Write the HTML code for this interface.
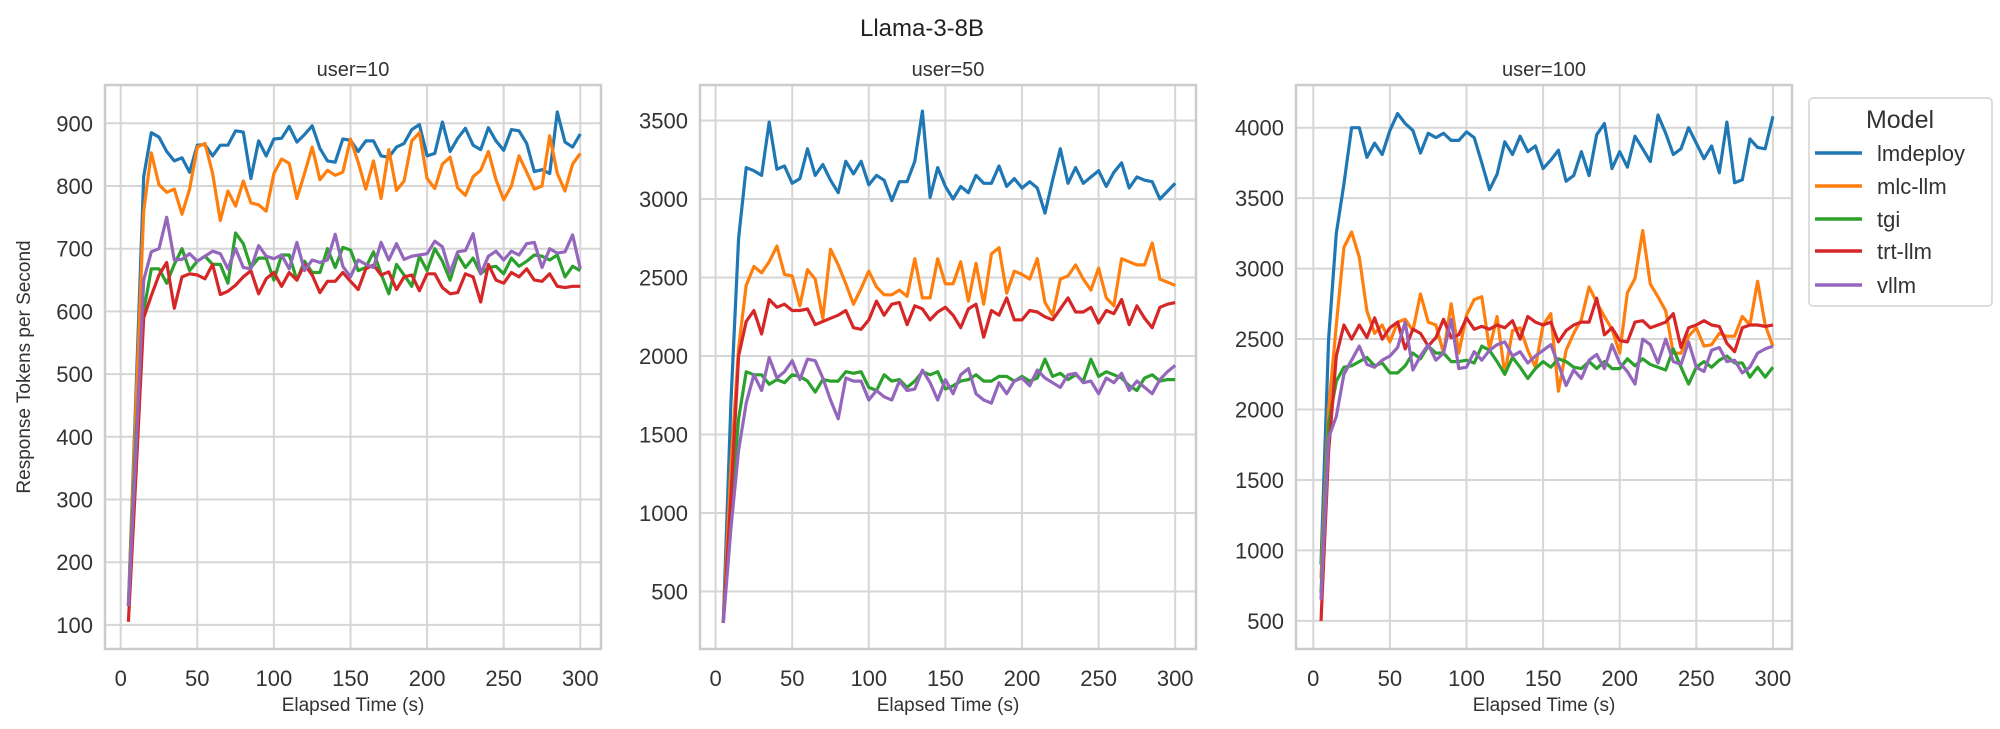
<!DOCTYPE html>
<html><head><meta charset="utf-8"><style>
html,body{margin:0;padding:0;background:#fff;}
svg{display:block;font-family:"Liberation Sans","DejaVu Sans",sans-serif;}
</style></head><body>
<svg id="chart" width="2000" height="729" viewBox="0 0 2000 729" xmlns="http://www.w3.org/2000/svg">
<text x="922" y="36" font-size="24" fill="#222" text-anchor="middle">Llama-3-8B</text>
<text transform="translate(30,367) rotate(-90)" font-size="19" fill="#333" text-anchor="middle">Response Tokens per Second</text>
<g id="panels"></g>
<g>
<rect x="1809" y="98" width="183" height="208" rx="4" fill="#fff" stroke="#ddd" stroke-width="2"/>
<text x="1900" y="128" font-size="25" fill="#333" text-anchor="middle">Model</text>
<g id="legend-items"></g>
</g>
</svg>
<script>
const categories = ["lmdeploy","mlc-llm","tgi","trt-llm","vllm"];
const colors = ["#1f77b4","#ff7f0e","#2ca02c","#d62728","#9467bd"];
const xTickLabels = [0,50,100,150,200,250,300];
const panelTitles = ["user=10","user=50","user=100"];
const yTicks10 = [100,200,300,400,500,600,700,800,900];
const yTicks50 = [500,1000,1500,2000,2500,3000,3500];
const yTicks100 = [500,1000,1500,2000,2500,3000,3500,4000];

const u10_lmdeploy = [130,470,815,885,878,855,840,845,822,865, 866,848,865,865,888,886,812,872,848,875, 876,895,870,882,896,860,840,838,875,873, 855,872,872,848,846,862,868,890,898,848, 852,902,855,876,892,865,858,893,872,857, 890,888,868,823,826,820,918,870,862,883];
const u10_mlc = [130,450,760,853,802,790,795,755,795,862, 868,820,745,792,768,808,773,770,760,820, 843,836,780,820,862,810,825,817,822,875, 838,795,840,780,858,793,808,872,885,812, 796,835,846,797,785,815,825,855,810,778, 800,848,822,795,800,880,820,792,835,852];
const u10_tgi = [130,400,600,668,668,645,675,700,665,680, 688,675,675,645,725,708,670,685,685,650, 690,690,650,680,662,662,700,670,702,698, 665,670,695,660,628,675,658,640,688,665, 700,680,650,690,670,685,660,670,672,660, 685,672,680,690,688,682,690,655,672,665];
const u10_trt = [105,340,590,625,658,678,605,655,660,658, 652,675,627,632,642,655,665,628,652,662, 640,662,650,675,658,630,648,648,662,648, 635,668,674,658,663,635,655,658,633,660, 660,638,628,630,660,655,615,675,650,645, 662,655,668,650,648,660,640,638,640,640];
const u10_vllm = [130,380,650,695,700,750,682,683,692,680, 688,696,692,668,700,670,668,705,688,684, 690,668,710,665,682,678,682,723,672,655, 682,675,670,710,682,708,683,688,690,692, 712,703,662,695,697,724,660,688,696,682, 696,690,708,710,670,700,693,695,722,668];

const u50_lmdeploy = [300,1700,2750,3200,3180,3150,3490,3190,3210,3100, 3130,3320,3150,3220,3120,3040,3240,3160,3240,3090, 3150,3120,2990,3110,3110,3240,3560,3010,3200,3080, 3000,3080,3040,3150,3100,3100,3210,3080,3130,3070, 3110,3070,2910,3120,3320,3100,3200,3100,3140,3180, 3080,3170,3230,3070,3140,3120,3110,3000,3050,3100];
const u50_mlc = [300,1300,2050,2450,2570,2530,2600,2700,2520,2510, 2320,2550,2490,2240,2680,2580,2460,2330,2430,2540, 2440,2390,2390,2420,2380,2620,2370,2370,2620,2460, 2460,2600,2350,2590,2330,2650,2690,2400,2540,2520, 2490,2620,2340,2260,2490,2510,2580,2490,2420,2560, 2370,2320,2620,2600,2580,2580,2720,2490,2470,2450];
const u50_tgi = [300,1000,1600,1900,1880,1880,1820,1850,1830,1880, 1870,1840,1770,1850,1840,1840,1900,1890,1900,1800, 1780,1880,1840,1850,1800,1840,1900,1880,1900,1790, 1810,1840,1850,1880,1840,1840,1870,1870,1840,1870, 1840,1860,1980,1870,1890,1850,1880,1840,1980,1870, 1900,1880,1860,1810,1780,1860,1880,1840,1850,1850];
const u50_trt = [300,1100,2000,2220,2290,2140,2360,2310,2330,2290, 2290,2300,2200,2220,2240,2260,2290,2180,2170,2230, 2350,2260,2330,2340,2200,2320,2300,2230,2280,2310, 2260,2180,2300,2330,2120,2290,2260,2370,2230,2230, 2290,2280,2250,2230,2300,2370,2280,2280,2310,2210, 2290,2270,2360,2200,2320,2240,2180,2310,2330,2340];
const u50_vllm = [300,900,1400,1700,1880,1780,1990,1860,1900,1970, 1850,1980,1970,1860,1720,1600,1860,1840,1840,1720, 1780,1740,1720,1840,1780,1790,1910,1830,1720,1850, 1760,1880,1920,1760,1720,1700,1830,1760,1840,1860, 1810,1910,1860,1830,1800,1880,1890,1830,1840,1760, 1860,1830,1890,1780,1840,1800,1760,1850,1900,1940];

const u100_lmdeploy = [900,2500,3250,3600,4000,4000,3790,3890,3810,3980, 4100,4030,3980,3820,3960,3930,3960,3910,3910,3970, 3930,3750,3560,3670,3900,3810,3940,3830,3870,3710, 3770,3840,3620,3660,3830,3660,3950,4030,3710,3830, 3720,3940,3850,3760,4090,3960,3810,3850,4000,3890, 3780,3870,3680,4040,3610,3630,3920,3860,3850,4080];
const u100_mlc = [800,2000,2600,3150,3260,3080,2700,2540,2600,2480, 2620,2640,2560,2820,2620,2600,2400,2750,2400,2670, 2780,2800,2430,2660,2250,2560,2580,2420,2300,2600, 2680,2130,2420,2540,2640,2870,2760,2660,2570,2400, 2830,2930,3270,2890,2800,2700,2400,2400,2520,2580, 2450,2460,2540,2520,2520,2660,2600,2910,2600,2450];
const u100_tgi = [700,1900,2200,2300,2310,2340,2370,2310,2330,2260, 2260,2310,2400,2360,2450,2400,2400,2340,2340,2350, 2330,2450,2420,2340,2250,2370,2300,2220,2290,2340, 2300,2360,2340,2300,2290,2340,2290,2340,2290,2290, 2360,2310,2360,2320,2300,2280,2430,2300,2180,2300, 2340,2300,2350,2380,2330,2330,2230,2300,2230,2300];
const u100_trt = [500,1700,2380,2600,2500,2600,2510,2650,2500,2580, 2620,2430,2570,2540,2450,2510,2640,2510,2530,2650, 2570,2590,2570,2600,2580,2630,2500,2660,2620,2600, 2620,2480,2560,2600,2620,2620,2790,2530,2580,2490, 2480,2620,2630,2580,2600,2620,2680,2440,2580,2600, 2630,2600,2590,2470,2410,2580,2600,2600,2590,2600];
const u100_vllm = [650,1800,1950,2250,2350,2450,2320,2300,2350,2380, 2440,2620,2280,2380,2460,2350,2400,2640,2290,2300, 2410,2350,2420,2460,2480,2380,2410,2330,2380,2420, 2460,2320,2170,2280,2220,2350,2390,2290,2460,2330, 2270,2180,2500,2460,2330,2500,2340,2320,2480,2300, 2270,2420,2440,2340,2350,2260,2300,2400,2430,2450];

const NS = "http://www.w3.org/2000/svg";
function mk(tag, attrs, parent){ const e=document.createElementNS(NS,tag); for(const k in attrs) e.setAttribute(k,attrs[k]); parent.appendChild(e); return e; }

const panels = [
  {left:105, x0:120.7, yRefV:900, yRefPx:123.3, pxPerUnit:0.627, ticks:yTicks10, series:[u10_lmdeploy,u10_mlc,u10_tgi,u10_trt,u10_vllm]},
  {left:700, x0:715.6, yRefV:3500, yRefPx:120.5, pxPerUnit:0.157, ticks:yTicks50, series:[u50_lmdeploy,u50_mlc,u50_tgi,u50_trt,u50_vllm]},
  {left:1296, x0:1313.3, yRefV:4000, yRefPx:127.7, pxPerUnit:0.1409, ticks:yTicks100, series:[u100_lmdeploy,u100_mlc,u100_tgi,u100_trt,u100_vllm]}
];
const TOP=85, BOTTOM=649, W=496, XPX=1.532;
const root=document.getElementById('panels');
panels.forEach((p,pi)=>{
  const xs = v => p.x0 + v*XPX;
  const ys = v => p.yRefPx + (p.yRefV - v)*p.pxPerUnit;
  const g = mk('g',{},root);
  
  
  const t = mk('text',{x:p.left+W/2,y:76,'font-size':20,fill:'#333','text-anchor':'middle'},g);
  t.textContent = panelTitles[pi];
  
  
  xTickLabels.forEach(v=>{
    const gl = mk('line',{x1:xs(v),x2:xs(v),y1:TOP,y2:BOTTOM,stroke:'#d6d6d6','stroke-width':2},g);
    
    
    const tl = mk('text',{x:xs(v),y:BOTTOM+37,'font-size':22,fill:'#333','text-anchor':'middle'},g);
    tl.textContent = v;
    
    
  });
  p.ticks.forEach(v=>{
    const gl = mk('line',{x1:p.left,x2:p.left+W,y1:ys(v),y2:ys(v),stroke:'#d6d6d6','stroke-width':2},g);
    
    
    const tl = mk('text',{x:p.left-12,y:ys(v)+8,'font-size':22,fill:'#333','text-anchor':'end'},g);
    tl.textContent = v;
    
    
  });
  const fr = mk('rect',{x:p.left,y:TOP,width:W,height:BOTTOM-TOP,fill:'none',stroke:'#cccccc','stroke-width':2.5},g);
  
  
  const xl = mk('text',{x:p.left+W/2,y:BOTTOM+62,'font-size':19,fill:'#333','text-anchor':'middle'},g);
  xl.textContent = 'Elapsed Time (s)';
  
  
  p.series.forEach((arr,si)=>{
    const pts = arr.map((v,i)=> xs(5*(i+1)).toFixed(1)+','+ys(v).toFixed(1)).join(' ');
    const pl = mk('polyline',{points:pts,fill:'none',stroke:colors[si],'stroke-width':3.2,'stroke-linejoin':'round'},g);
    
    
  });
});
const li=document.getElementById('legend-items');
const ly=[153,186,219,251,285];
categories.forEach((c,i)=>{
  const g=mk('g',{},li);
  
  
  mk('line',{x1:1815,x2:1862,y1:ly[i],y2:ly[i],stroke:colors[i],'stroke-width':3.5},g);
  const t=mk('text',{x:1877,y:ly[i]+8,'font-size':22,fill:'#333'},g);
  t.textContent=c;
});
</script>
</body></html>
